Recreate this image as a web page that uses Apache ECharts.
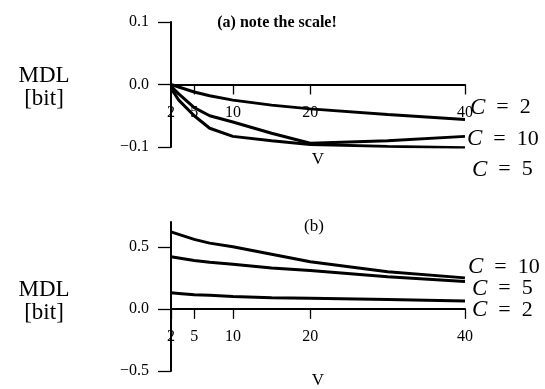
<!DOCTYPE html>
<html>
<head>
<meta charset="utf-8">
<script src="https://cdn.jsdelivr.net/npm/echarts@6/dist/echarts.min.js"></script>
<style>
  html, body { margin: 0; padding: 0; background: #fff; }
  #chart { width: 545px; height: 389px; }
</style>
</head>
<body>
<div id="chart"></div>
<script>
// V values, same for both panels
const vValues = [2, 3, 5, 7, 10, 15, 20, 30, 40];
const vTicks = [2, 5, 10, 20, 40];

// (a) note the scale!
const topNames = ['C = 2', 'C = 10', 'C = 5'];
const topC2 = [0, -0.004, -0.012, -0.018, -0.025, -0.033, -0.039, -0.048, -0.056];
const topC10 = [-0.003, -0.015, -0.037, -0.05, -0.06, -0.078, -0.094, -0.09, -0.083];
const topC5 = [-0.006, -0.025, -0.05, -0.07, -0.083, -0.09, -0.096, -0.099, -0.101];
const topTicks = [-0.1, 0, 0.1];

// (b)
const botNames = ['C = 10', 'C = 5', 'C = 2'];
const botC10 = [0.62, 0.6, 0.56, 0.53, 0.5, 0.44, 0.38, 0.3, 0.25];
const botC5 = [0.42, 0.41, 0.39, 0.375, 0.36, 0.33, 0.31, 0.26, 0.22];
const botC2 = [0.13, 0.125, 0.115, 0.11, 0.1, 0.09, 0.085, 0.075, 0.064];
const botTicks = [-0.5, 0, 0.5];

const FONT = 'Liberation Serif';

const pairs = ys => vValues.map((v, i) => [v, ys[i]]);
const fmtY = v => (v < 0 ? '\u2212' : '') + Math.abs(v).toFixed(1);

function curve(name, ys, idx, offset) {
  return {
    name: name,
    type: 'line',
    xAxisIndex: idx,
    yAxisIndex: idx,
    data: pairs(ys),
    symbol: 'none',
    silent: true,
    lineStyle: { color: '#000', width: 3 },
    endLabel: {
      show: true,
      offset: offset,
      distance: 3,
      // C in italics, wider spaces round "="
      formatter: p => '{i|C}' + p.seriesName.slice(1).replace(/ /g, '\u2002'),
      color: '#000',
      fontFamily: FONT,
      fontSize: 22,
      rich: { i: { fontStyle: 'italic', fontFamily: FONT, fontSize: 23, color: '#000' } },
    },
  };
}

// x axis sits at y = 0: pull it up from the grid bottom with a negative offset
function xAxis(idx, zeroOffset, gap) {
  return {
    type: 'value',
    gridIndex: idx,
    min: 2,
    max: 40,
    offset: zeroOffset,
    name: 'V',
    nameLocation: 'middle',
    nameGap: gap,
    nameTextStyle: { color: '#000', fontFamily: FONT, fontSize: 17 },
    splitLine: { show: false },
    axisLine: { onZero: false, lineStyle: { color: '#000', width: 2 } },
    axisTick: { customValues: vTicks, length: 10, lineStyle: { color: '#000', width: 1.3 } },
    axisLabel: { customValues: vTicks, margin: 20, color: '#000', fontFamily: FONT, fontSize: 16 },
  };
}

// an empty first line of height "shift" pushes the two-line name down by shift / 2
function yAxis(idx, min, max, ticks, shift) {
  const t = { color: '#000', fontFamily: FONT, fontSize: 23, lineHeight: 23, align: 'center' };
  return {
    type: 'value',
    gridIndex: idx,
    min: min,
    max: max,
    name: '{s|}\n{t|MDL}\n{t|[bit]}',
    nameLocation: 'middle',
    nameRotate: 0,
    nameGap: 127,
    nameTextStyle: Object.assign({}, t, {
      rich: { s: { lineHeight: shift, fontSize: 2 }, t: t },
    }),
    splitLine: { show: false },
    axisLine: { onZero: false, lineStyle: { color: '#000', width: 2 } },
    axisTick: { customValues: ticks, length: 13, lineStyle: { color: '#000', width: 1.3 } },
    axisLabel: { customValues: ticks, margin: 22, formatter: fmtY, color: '#000', fontFamily: FONT, fontSize: 16 },
  };
}

const chart = echarts.init(document.getElementById('chart'));

chart.setOption({
  animation: false,
  backgroundColor: '#fff',
  title: [
    {
      text: '(a) note the scale!',
      left: 272, top: 10, textAlign: 'center',
      textStyle: { color: '#000', fontFamily: FONT, fontSize: 16, fontWeight: 'bold' },
    },
    {
      text: '(b)',
      left: 309, top: 213, textAlign: 'center',
      textStyle: { color: '#000', fontFamily: FONT, fontSize: 17, fontWeight: 'normal' },
    },
  ],
  grid: [
    { left: 171, right: 80, top: 22, height: 125, outerBoundsMode: 'none', containLabel: false },
    { left: 171, right: 80, top: 222, height: 149, outerBoundsMode: 'none', containLabel: false },
  ],
  xAxis: [xAxis(0, -62.5, 67), xAxis(1, -62.1, 63)],
  yAxis: [yAxis(0, -0.1, 0.1, topTicks, 6), yAxis(1, -0.5, 0.7, botTicks, 10)],
  series: [
    curve(topNames[0], topC2, 0, [2, -12]),
    curve(topNames[1], topC10, 0, [-1, 3]),
    curve(topNames[2], topC5, 0, [4, 22]),
    curve(botNames[0], botC10, 1, [0, -11]),
    curve(botNames[1], botC5, 1, [4, 7]),
    curve(botNames[2], botC2, 1, [4, 9]),
  ],
});
</script>
</body>
</html>
